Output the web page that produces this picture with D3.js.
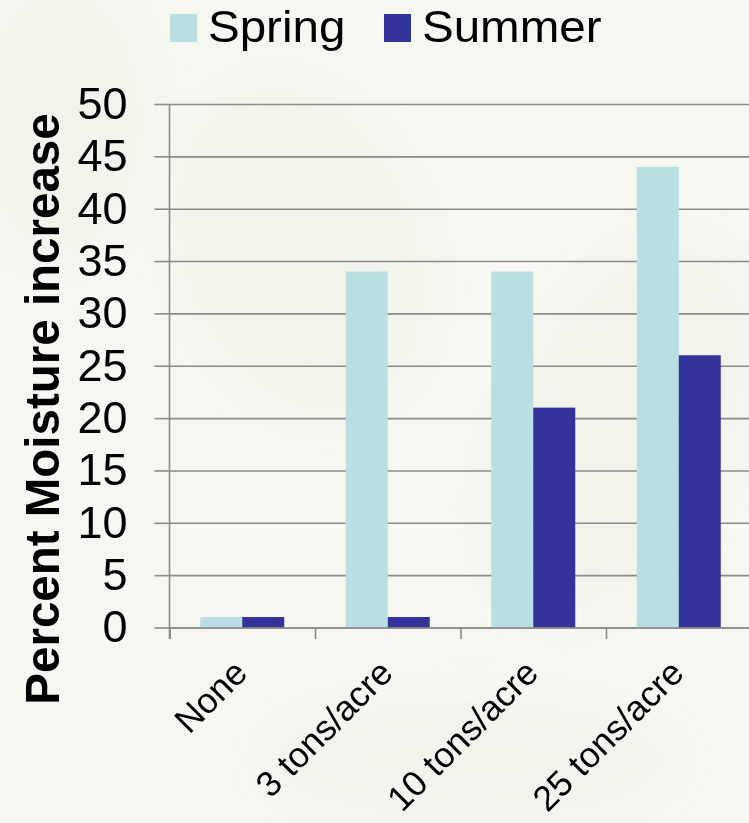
<!DOCTYPE html>
<html>
<head>
<meta charset="utf-8">
<script src="https://cdn.jsdelivr.net/npm/d3@7/dist/d3.min.js"></script>
<style>
  html, body { margin: 0; padding: 0; background: #f7f7f3; }
  svg { display: block; }
  text { font-family: "Liberation Sans", Arial, Helvetica, sans-serif; fill: #000; }
</style>
</head>
<body>
<svg id="chart" width="749" height="823"></svg>
<script>
// Moisture increase by compost application rate
const categories = ["None", "3 tons/acre", "10 tons/acre", "25 tons/acre"];
const seriesNames = ["Spring", "Summer"];
const springValues = [1, 34, 34, 44];
const summerValues = [1, 1, 21, 26];
const yTicks = [0, 5, 10, 15, 20, 25, 30, 35, 40, 45, 50];
const seriesColors = ["#b8dfe2", "#333399"];

const svg = d3.select("#chart");
const W = 749, H = 823;

// soft pale backdrop with faint leaf-like shapes
const defs = svg.append("defs");
defs.append("filter").attr("id", "soft")
  .append("feGaussianBlur").attr("stdDeviation", 18);
svg.append("rect").attr("width", W).attr("height", H).attr("fill", "#f7f7f2");
const bg = svg.append("g").attr("filter", "url(#soft)").attr("opacity", 0.55);
bg.append("ellipse").attr("cx", 300).attr("cy", 250).attr("rx", 120).attr("ry", 170)
  .attr("fill", "#edf3e4").attr("transform", "rotate(-20 300 250)");
bg.append("ellipse").attr("cx", 620).attr("cy", 430).attr("rx", 110).attr("ry", 200)
  .attr("fill", "#eef1e6").attr("transform", "rotate(25 620 430)");
bg.append("ellipse").attr("cx", 60).attr("cy", 120).attr("rx", 90).attr("ry", 140)
  .attr("fill", "#eef2e6");
bg.append("ellipse").attr("cx", 470).attr("cy", 760).attr("rx", 200).attr("ry", 60)
  .attr("fill", "#f0f0e8");

// plot frame
const x0Left = 169.5, step = 145.5;
const plotRight = x0Left + step * categories.length;

const y = d3.scaleLinear().domain([0, 50]).range([627.5, 104]);
const x0 = d3.scaleBand().domain(categories).range([x0Left, plotRight]).padding(0);
const x1 = d3.scaleBand().domain(seriesNames).range([0, x0.bandwidth()])
  .paddingInner(0).paddingOuter(0.732);
const xEdges = d3.scaleLinear().domain([0, categories.length]).range([x0Left, plotRight]);

const gridColor = "#8a8a8a";

// horizontal gridlines (with short outer ticks left of the axis)
const grid = svg.append("g").attr("transform", `translate(${x0Left},0)`)
  .call(d3.axisLeft(y).tickValues(yTicks).tickSizeInner(-(plotRight - x0Left)).tickSizeOuter(0).tickFormat(""));
grid.select(".domain").remove();
grid.selectAll("line").attr("stroke", gridColor).attr("stroke-width", 1.6);

// bars
const rows = categories.map((c, i) => ({ cat: c, vals: [springValues[i], summerValues[i]] }));
const groups = svg.append("g").selectAll("g").data(rows).join("g")
  .attr("transform", d => `translate(${x0(d.cat)},0)`);
groups.selectAll("rect")
  .data(d => d.vals.map((v, k) => ({ name: seriesNames[k], value: v, k })))
  .join("rect")
  .attr("x", d => x1(d.name))
  .attr("width", x1.bandwidth())
  .attr("y", d => y(d.value))
  .attr("height", d => y(0) - y(d.value))
  .attr("fill", d => seriesColors[d.k]);

// y axis
const yAxis = svg.append("g").attr("transform", `translate(${x0Left},0)`)
  .call(d3.axisLeft(y).tickValues(yTicks).tickSize(15).tickPadding(27));
yAxis.select(".domain").remove();
yAxis.selectAll("line").attr("stroke", gridColor).attr("stroke-width", 1.6);
yAxis.selectAll("text").attr("font-size", 45).attr("fill", "#000")
  .style("font-family", '"Liberation Sans", Arial, sans-serif');
svg.append("line")
  .attr("x1", x0Left).attr("x2", x0Left)
  .attr("y1", y(50)).attr("y2", y(0) + 11.5)
  .attr("stroke", gridColor).attr("stroke-width", 1.6);

// x axis: baseline and category separators
const xAxis = svg.append("g").attr("transform", `translate(0,${y(0)})`)
  .call(d3.axisBottom(xEdges).ticks(categories.length).tickSize(11.5).tickFormat(""));
xAxis.select(".domain").attr("stroke", gridColor).attr("stroke-width", 1.6);
xAxis.selectAll("line").attr("stroke", gridColor).attr("stroke-width", 1.6);

// rotated category labels
svg.append("g").selectAll("text").data(categories).join("text")
  .attr("transform", d => `translate(${x0(d) + x0.bandwidth() / 2 + 7},675) rotate(-45)`)
  .attr("text-anchor", "end")
  .attr("font-size", 35.5)
  .text(d => d);

// y axis title
svg.append("text")
  .attr("transform", "translate(59,409) rotate(-90)")
  .attr("text-anchor", "middle")
  .attr("font-size", 47.5)
  .attr("font-weight", "bold")
  .text("Percent Moisture increase");

// legend
const legendItems = [
  { name: "Spring", color: seriesColors[0], x: 170 },
  { name: "Summer", color: seriesColors[1], x: 384 }
];
const legend = svg.append("g").selectAll("g").data(legendItems).join("g")
  .attr("transform", d => `translate(${d.x},0)`);
legend.append("rect").attr("x", 0).attr("y", 14).attr("width", 27).attr("height", 28)
  .attr("fill", d => d.color);
legend.append("text")
  .attr("transform", "translate(38,42) scale(1.08,1)")
  .attr("font-size", 44)
  .text(d => d.name);
</script>
</body>
</html>
